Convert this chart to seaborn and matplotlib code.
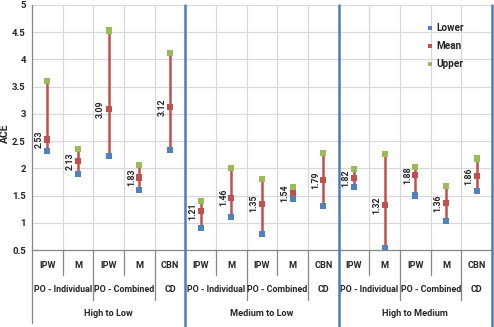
import pandas as pd
import matplotlib.pyplot as plt
import seaborn as sns
from matplotlib.lines import Line2D

# Values
methods = ['IPW', 'M', 'IPW', 'M', 'CBN'] * 3
models = ['PO - Individual', 'PO - Combined', 'CD']
model_spans = [2, 2, 1]
scenarios = ['High to Low', 'Medium to Low', 'High to Medium']

lower = [2.32, 1.89, 2.22, 1.60, 2.33,
         0.90, 1.11, 0.80, 1.44, 1.31,
         1.66, 0.53, 1.50, 1.03, 1.59]
mean = [2.53, 2.13, 3.09, 1.83, 3.12,
        1.21, 1.46, 1.35, 1.54, 1.79,
        1.82, 1.32, 1.88, 1.36, 1.86]
upper = [3.60, 2.36, 4.53, 2.06, 4.12,
         1.40, 2.00, 1.80, 1.66, 2.28,
         1.99, 2.27, 2.03, 1.67, 2.18]

pos = list(range(len(methods)))
df = pd.DataFrame({
    'pos': pos * 3,
    'stat': ['Lower'] * 15 + ['Mean'] * 15 + ['Upper'] * 15,
    'ACE': lower + mean + upper,
})

sns.set_style('white')
plt.rcParams['font.family'] = ['Roboto', 'DejaVu Sans']
plt.rcParams['font.weight'] = 'bold'

W, H = 494, 327
fig = plt.figure(figsize=(W / 100, H / 100), dpi=100)
ax = fig.add_axes([32 / W, 1 - 250 / H, 460 / W, 245 / H])

grid_c = '#D9D9D9'
axis_c = '#868686'
blue_sep = '#4A7EBB'
txt_c = '#262626'

# grid
for yv in [0.5 * k for k in range(2, 11)]:
    ax.axhline(yv, color=grid_c, lw=0.9, zorder=0)
for xv in [i + 0.5 for i in range(14)]:
    ax.axvline(xv, color=grid_c, lw=0.9, zorder=0)

# high-low lines
ax.vlines(pos, lower, upper, color='#C0504D', lw=1.8, zorder=2)

palette = {'Lower': '#4F81BD', 'Mean': '#C0504D', 'Upper': '#9BBB59'}
sns.scatterplot(data=df, x='pos', y='ACE', hue='stat', palette=palette,
                marker='s', s=20, linewidth=0, ax=ax, zorder=3)

for x, m in zip(pos, mean):
    ax.annotate(f'{m:.2f}', (x, m), xytext=(-8, 0), textcoords='offset pixels',
                rotation=90, ha='center', va='center', fontsize=6.3,
                fontweight='bold', color=txt_c)

ax.set_xlim(-0.5, 14.5)
ax.set_ylim(0.5, 5)
ax.set_yticks([0.5 * k for k in range(1, 11)])
ax.set_yticklabels(['0.5', '1', '1.5', '2', '2.5', '3', '3.5', '4', '4.5', '5'],
                   fontweight='bold', color=txt_c)
ax.tick_params(axis='y', length=3, width=0.8, color=axis_c, pad=1.5,
               labelsize=6.8)
ax.set_xticks([])
ax.set_xlabel('')
ax.set_ylabel('ACE', fontsize=7.5, fontweight='bold', color=txt_c)
ax.yaxis.set_label_coords(-22 / 460, 0.475)

for side in ['top', 'right']:
    ax.spines[side].set_visible(False)
ax.spines['left'].set_color(axis_c)
ax.spines['bottom'].set_color(axis_c)
ax.spines['left'].set_linewidth(0.9)
ax.spines['bottom'].set_linewidth(0.9)

# multi-level category axis
tr = ax.get_xaxis_transform()
px = 1 / 245.0
for x, lab in zip(pos, methods):
    ax.text(x, -16 * px, lab, transform=tr, ha='center', va='center',
            fontsize=6.6, fontweight='bold', color=txt_c, clip_on=False)

for s in range(3):
    x0 = s * 5
    ax.text(x0 + 2, -64 * px, scenarios[s], transform=tr, ha='center',
            va='center', fontsize=6.6, fontweight='bold', color=txt_c,
            clip_on=False)
    k = x0
    for name, span in zip(models, model_spans):
        ax.text(k + (span - 1) / 2, -39 * px, name, transform=tr, ha='center',
                va='center', fontsize=6.4, fontweight='bold', color=txt_c,
                clip_on=False)
        if k > x0:
            ax.add_line(Line2D([k - 0.5, k - 0.5], [0, -50 * px], transform=tr,
                               color=axis_c, lw=0.9, clip_on=False))
        for j in range(1, span):
            ax.add_line(Line2D([k + j - 0.5, k + j - 0.5], [0, -25 * px],
                               transform=tr, color=axis_c, lw=0.9,
                               clip_on=False))
        k += span

ax.add_line(Line2D([-0.5, -0.5], [0, -73 * px], transform=tr, color=axis_c,
                   lw=0.9, clip_on=False))

# scenario separators
for xv in [4.5, 9.5, 14.5]:
    ax.add_line(Line2D([xv, xv], [-76 * px, 1], transform=tr, color=blue_sep,
                       lw=1.8, clip_on=False, zorder=4))

sns.move_legend(ax, loc='upper left', bbox_to_anchor=(0.835, 0.962),
                frameon=False, title=None, fontsize=7.2, labelspacing=0.8,
                handletextpad=0.1, handlelength=1.0, markerscale=0.8)
for t in ax.get_legend().get_texts():
    t.set_fontweight('bold')
    t.set_color(txt_c)

fig.savefig('out.png', dpi=100)
